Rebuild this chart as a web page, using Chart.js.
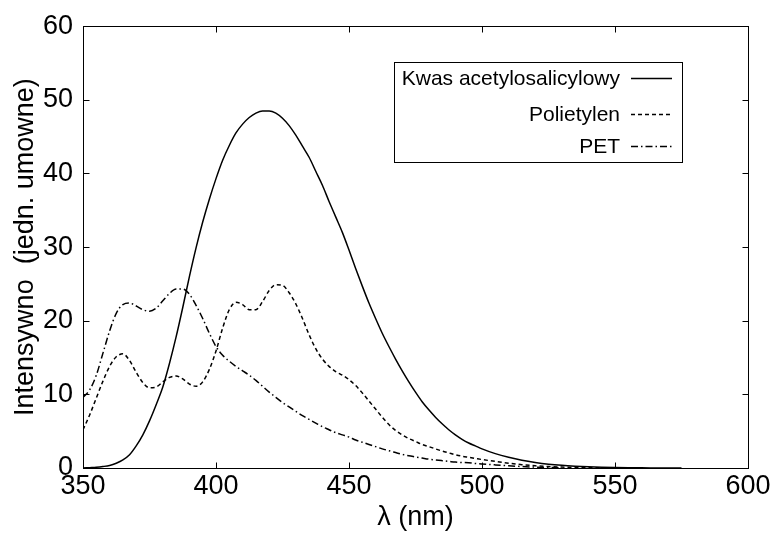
<!DOCTYPE html>
<html>
<head>
<meta charset="utf-8">
<script src="https://cdn.jsdelivr.net/npm/chart.js@4/dist/chart.umd.min.js"></script>
<style>
  html, body { margin: 0; padding: 0; background: #fff; }
  #wrap { width: 776px; height: 534px; }
</style>
</head>
<body>
<div id="wrap"><canvas id="c" width="776" height="534"></canvas></div>
<script>
// ---- data ----
const lambdaNm = [
  350,352.5,355,357.5,360,362.5,365,367.5,370,372.5,
  375,377.5,380,382.5,385,387.5,390,392.5,395,397.5,
  400,402.5,405,407.5,410,412.5,415,417.5,420,422.5,
  425,427.5,430,432.5,435,437.5,440,442.5,445,447.5,
  450,452.5,455,457.5,460,462.5,465,467.5,470,472.5,
  475,477.5,480,482.5,485,487.5,490,492.5,495,497.5,
  500,505,510,515,520,525,530,535,540,545,
  550,555,560,565,570,575
];
const kwasAcetylosalicylowy = [
  0.0,0.05,0.1,0.2,0.35,0.65,1.1,1.8,3.0,4.5,
  6.4,8.6,11.0,14.2,17.8,21.8,26.0,29.9,33.4,36.5,
  39.3,41.8,43.8,45.5,46.7,47.6,48.2,48.5,48.5,48.2,
  47.5,46.5,45.2,43.7,42.2,40.3,38.4,36.2,34.1,32.0,
  29.6,27.1,24.7,22.4,20.3,18.3,16.5,14.8,13.2,11.7,
  10.3,9.0,7.9,6.9,6.0,5.2,4.5,3.9,3.4,3.0,
  2.6,1.95,1.45,1.05,0.75,0.52,0.36,0.25,0.17,0.11,
  0.07,0.04,0.02,0.01,0.0,0.0
];
const polietylen = [
  5.2,7.2,9.5,11.8,13.8,15.1,15.5,14.6,13.0,11.6,
  10.9,11.0,11.7,12.3,12.5,12.1,11.4,11.1,11.7,13.4,
  15.9,19.0,21.5,22.5,22.2,21.5,21.5,22.6,24.1,24.9,
  24.8,23.8,22.3,20.3,18.1,16.2,14.8,13.8,13.1,12.6,
  12.0,11.2,10.2,9.1,8.0,6.9,5.9,5.1,4.5,4.0,
  3.6,3.2,2.9,2.6,2.3,2.05,1.8,1.6,1.45,1.3,
  1.15,0.9,0.65,0.45,0.3,0.2,0.12,0.07,0.04,0.02,
  0.01,null,null,null,null,null
];
const pet = [
  9.6,10.6,12.6,15.6,18.6,21.0,22.2,22.4,22.0,21.5,
  21.3,21.7,22.7,23.7,24.3,24.3,23.6,22.1,20.3,18.3,
  16.5,15.3,14.5,13.8,13.2,12.6,11.9,11.1,10.3,9.6,
  8.9,8.3,7.7,7.1,6.6,6.1,5.6,5.2,4.8,4.5,
  4.2,3.8,3.5,3.2,2.9,2.6,2.35,2.1,1.85,1.65,
  1.5,1.35,1.2,1.1,1.0,0.9,0.8,0.75,0.7,0.62,
  0.55,0.42,0.3,0.2,0.12,0.07,0.03,null,null,null,
  null,null,null,null,null,null
];
const seriesNames = ['Kwas acetylosalicylowy', 'Polietylen', 'PET'];
const xTickValues = [350, 400, 450, 500, 550, 600];
const yTickValues = [0, 10, 20, 30, 40, 50, 60];
const xTitle = 'λ (nm)';
const yTitle = 'Intensywno  (jedn. umowne)';

// ---- chart ----
const FONT = "'Liberation Sans', Arial, Helvetica, sans-serif";
const toPoints = arr => lambdaNm.map((x, i) => ({ x: x, y: arr[i] }));
const dashes = [[], [4, 3], [7, 3, 1.5, 3]];

const framePlugin = {
  id: 'frameAndLegend',
  afterDraw(chart) {
    const { ctx, chartArea: a, scales } = chart;
    const xs = scales.x, ys = scales.y;
    ctx.save();
    ctx.strokeStyle = '#000';
    ctx.lineWidth = 1;
    const L = Math.round(a.left) + 0.5, R = Math.round(a.right) + 0.5;
    const T = Math.round(a.top) + 0.5, B = Math.round(a.bottom) + 0.5;
    ctx.strokeRect(L, T, R - L, B - T);
    const tl = 6;
    ctx.beginPath();
    xTickValues.forEach(v => {
      const px = Math.round(xs.getPixelForValue(v)) + 0.5;
      ctx.moveTo(px, B); ctx.lineTo(px, B - tl);
      ctx.moveTo(px, T); ctx.lineTo(px, T + tl);
    });
    yTickValues.forEach(v => {
      const py = Math.round(ys.getPixelForValue(v)) + 0.5;
      ctx.moveTo(L, py); ctx.lineTo(L + tl, py);
      ctx.moveTo(R, py); ctx.lineTo(R - tl, py);
    });
    ctx.stroke();

    // legend box (MATLAB style: text right-aligned, sample to the right)
    const box = { l: 394.5, t: 62.5, r: 682.5, b: 162.5 };
    ctx.fillStyle = '#fff';
    ctx.fillRect(box.l, box.t, box.r - box.l, box.b - box.t);
    ctx.strokeRect(box.l, box.t, box.r - box.l, box.b - box.t);
    const rows = [78, 114, 146];
    ctx.font = '21px ' + FONT;
    ctx.textAlign = 'right';
    ctx.textBaseline = 'middle';
    chart.data.datasets.forEach((ds, i) => {
      ctx.fillStyle = '#000';
      ctx.fillText(ds.label, 620, rows[i] + 1);
      ctx.beginPath();
      ctx.setLineDash(ds.borderDash || []);
      ctx.lineWidth = 1.4;
      ctx.moveTo(631, rows[i] + 0.5);
      ctx.lineTo(672, rows[i] + 0.5);
      ctx.stroke();
    });
    ctx.restore();
  }
};

new Chart(document.getElementById('c'), {
  type: 'line',
  data: {
    datasets: [
      { label: seriesNames[0], data: toPoints(kwasAcetylosalicylowy) },
      { label: seriesNames[1], data: toPoints(polietylen) },
      { label: seriesNames[2], data: toPoints(pet) }
    ].map((d, i) => Object.assign(d, {
      borderColor: '#000',
      borderWidth: 1.5,
      borderDash: dashes[i],
      pointRadius: 0,
      fill: false,
      cubicInterpolationMode: 'monotone',
      spanGaps: false
    }))
  },
  options: {
    responsive: false,
    animation: false,
    layout: { padding: { left: 0, right: 28, top: 25, bottom: 0 } },
    plugins: { legend: { display: false }, tooltip: { enabled: false } },
    scales: {
      x: {
        type: 'linear',
        min: 350, max: 600,
        afterBuildTicks: s => { s.ticks = xTickValues.map(v => ({ value: v })); },
        afterFit: s => { s.height = 66; },
        grid: { display: false, drawTicks: false },
        border: { display: false },
        ticks: { color: '#000', font: { family: FONT, size: 27 }, padding: 2, maxRotation: 0 },
        title: { display: true, text: xTitle, color: '#000', font: { family: FONT, size: 27 }, padding: { top: 0, bottom: 0 } }
      },
      y: {
        type: 'linear',
        min: 0, max: 60,
        afterBuildTicks: s => { s.ticks = yTickValues.map(v => ({ value: v })); },
        afterFit: s => { s.width = 83; },
        grid: { display: false, drawTicks: false },
        border: { display: false },
        ticks: { color: '#000', font: { family: FONT, size: 27 }, padding: 10 },
        title: { display: true, text: yTitle, color: '#000', font: { family: FONT, size: 27 }, padding: { top: 9, bottom: 0 } }
      }
    }
  },
  plugins: [framePlugin]
});
</script>
</body>
</html>
